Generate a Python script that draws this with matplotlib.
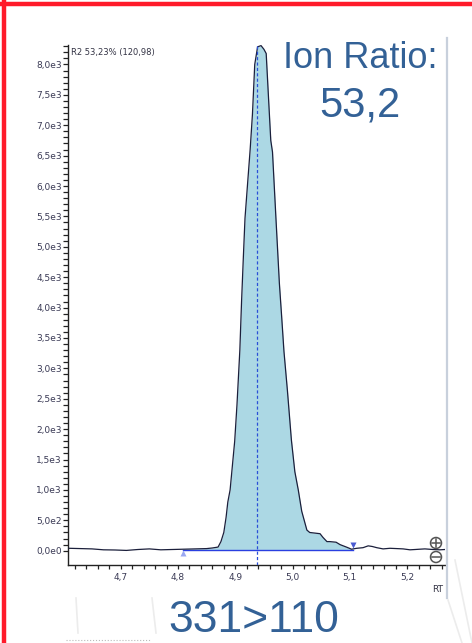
import numpy as np
import matplotlib
matplotlib.use('Agg')
import matplotlib.pyplot as plt
from matplotlib.lines import Line2D
from matplotlib.patches import Ellipse

plt.rcParams['font.family'] = ['DejaVu Sans']

# chromatogram trace (retention time, intensity)
rt = [4.610, 4.630, 4.650, 4.670, 4.690, 4.710, 4.730, 4.750, 4.770, 4.790,
      4.810, 4.830, 4.850, 4.860, 4.870, 4.875, 4.880, 4.884, 4.887, 4.891,
      4.895, 4.899, 4.903, 4.908, 4.911, 4.914, 4.917, 4.922, 4.926, 4.930,
      4.934, 4.939, 4.945, 4.950, 4.954, 4.958, 4.962, 4.965, 4.971, 4.977,
      4.981, 4.985, 4.991, 4.998, 5.004, 5.010, 5.016, 5.025, 5.030, 5.039,
      5.048, 5.053, 5.060, 5.065, 5.076, 5.083, 5.094, 5.103, 5.112, 5.123,
      5.132, 5.139, 5.147, 5.158, 5.170, 5.182, 5.193, 5.205, 5.214, 5.222,
      5.231, 5.245, 5.257, 5.266]
intensity = [40, 35, 30, 15, 12, 5, 20, 30, 15, 20,
             25, 30, 35, 45, 60, 150, 300, 550, 800, 1000,
             1400, 1800, 2400, 3300, 4100, 4800, 5470, 6100, 6600, 7180,
             8000, 8290, 8310, 8250, 8180, 7460, 6750, 6560, 5470, 4400,
             3850, 3280, 2640, 1820, 1300, 1000, 650, 340, 300, 290,
             280, 220, 150, 150, 140, 100, 60, 25, 40, 50,
             80, 70, 50, 30, 40, 35, 30, 15, 20, 25,
             30, 20, 15, 20]

peak_start, peak_end = 4.809, 5.105
baseline_level = 10
apex_rt = 4.938
r2_label = 'R2 53,23% (120,98)'
ion_ratio = '53,2'
transition = '331>110'

rt = np.array(rt)
intensity = np.array(intensity, dtype=float)

W, H = 472, 643
fig = plt.figure(figsize=(4.72, 6.43), dpi=100)
ax = fig.add_axes([0.1447, 0.1213, 0.798, 0.8087])

# integrated area
mask = (rt >= peak_start) & (rt <= peak_end)
ax.fill_between(rt[mask], baseline_level, intensity[mask],
                where=intensity[mask] > baseline_level,
                color='#acd8e4', lw=0, zorder=1)
ax.plot([peak_start, peak_end], [baseline_level, baseline_level],
        color='#2a3fe0', lw=1.0, zorder=2)
ax.plot(rt, intensity, color='#1b1f3b', lw=0.9, zorder=3)
ax.axvline(apex_rt, color='#2a4fd8', lw=0.9, ls=(0, (2.5, 1.8)), zorder=4)

# peak start / end markers
ax.plot(peak_start, -40, marker='^', ms=5, color='#9aa8f2', mec='none', zorder=5)
ax.plot(peak_end, 90, marker='v', ms=5, color='#4a5bd0', mec='none', zorder=5)

ax.set_xlim(4.6086, 5.266)
ax.set_ylim(-235, 8320)

ax.set_yticks(np.arange(0, 8001, 500))
ax.set_yticks(np.arange(0, 8301, 100), minor=True)
ax.set_yticklabels([f'{v / 10 ** (len(str(int(v))) - 1):.1f}e{len(str(int(v))) - 1}'.replace('.', ',')
                    if v > 0 else '0,0e0' for v in np.arange(0, 8001, 500)])
ax.set_xticks([4.7, 4.8, 4.9, 5.0, 5.1, 5.2])
ax.set_xticklabels(['4,7', '4,8', '4,9', '5,0', '5,1', '5,2'])
ax.set_xticks(np.arange(4.62, 5.27, 0.02), minor=True)

ax.tick_params(axis='both', which='both', direction='out', color='#222222',
               width=0.9, labelsize=6.5, labelcolor='#3a3a55')
ax.tick_params(axis='y', which='both', length=3.6, pad=1.2)
ax.tick_params(axis='x', which='both', length=3.0, pad=2.5)

for s in ['top', 'right']:
    ax.spines[s].set_visible(False)
for s in ['left', 'bottom']:
    ax.spines[s].set_color('#222222')
    ax.spines[s].set_linewidth(1.0)

ax.text(0.008, 0.994, r2_label, transform=ax.transAxes, fontsize=6,
        color='#333344', va='top', ha='left')
fig.text(438 / W, 1 - 590 / H, 'RT', fontsize=6.5, color='#333344',
         ha='center', va='center')

# zoom in / zoom out buttons
for cy, plus in [(543, True), (557, False)]:
    fig.add_artist(Ellipse((436 / W, 1 - cy / H), 11 / W, 11 / H,
                           facecolor='white', edgecolor='#555555', lw=1.1))
    fig.add_artist(Line2D([432 / W, 440 / W], [1 - cy / H, 1 - cy / H],
                          color='#555555', lw=1.1))
    if plus:
        fig.add_artist(Line2D([436 / W, 436 / W], [1 - (cy - 4) / H, 1 - (cy + 4) / H],
                              color='#555555', lw=1.1))

# panel edge on the right
fig.add_artist(Line2D([447 / W, 447 / W], [1 - 38 / H, 1 - 598 / H],
                      color='#c8d0dc', lw=1.6))
# faint backdrop strokes
for x0, x1, y0, y1 in [(76, 78, 598, 633), (152, 156, 598, 633),
                       (455, 472, 560, 643), (448, 462, 600, 643)]:
    fig.add_artist(Line2D([x0 / W, x1 / W], [1 - y0 / H, 1 - y1 / H],
                          color='#ececec', lw=1.2))
# edge of the next chart below
fig.add_artist(Line2D([66 / W, 150 / W], [1 - 640 / H, 1 - 640 / H],
                      color='#bbbbbb', lw=0.8, ls=':'))

font_big = ['Liberation Sans', 'DejaVu Sans']
fig.text(360 / W, 1 - 68 / H, 'Ion Ratio:', fontsize=26, color='#336196',
         ha='center', va='baseline', family=font_big)
fig.text(360 / W, 1 - 117 / H, ion_ratio, fontsize=30, color='#336196',
         ha='center', va='baseline', family=font_big)
fig.text(254 / W, 1 - 632 / H, transition, fontsize=32, color='#336196',
         ha='center', va='baseline', family=font_big)

# red frame
fig.add_artist(Line2D([4 / W, 4 / W], [0, 1 - 2 / H], color='#ff1a2a', lw=3.2))
fig.add_artist(Line2D([2 / W, 1], [1 - 4 / H, 1 - 4 / H], color='#ff1a2a', lw=3.2))

fig.savefig('out.png', dpi=100)
